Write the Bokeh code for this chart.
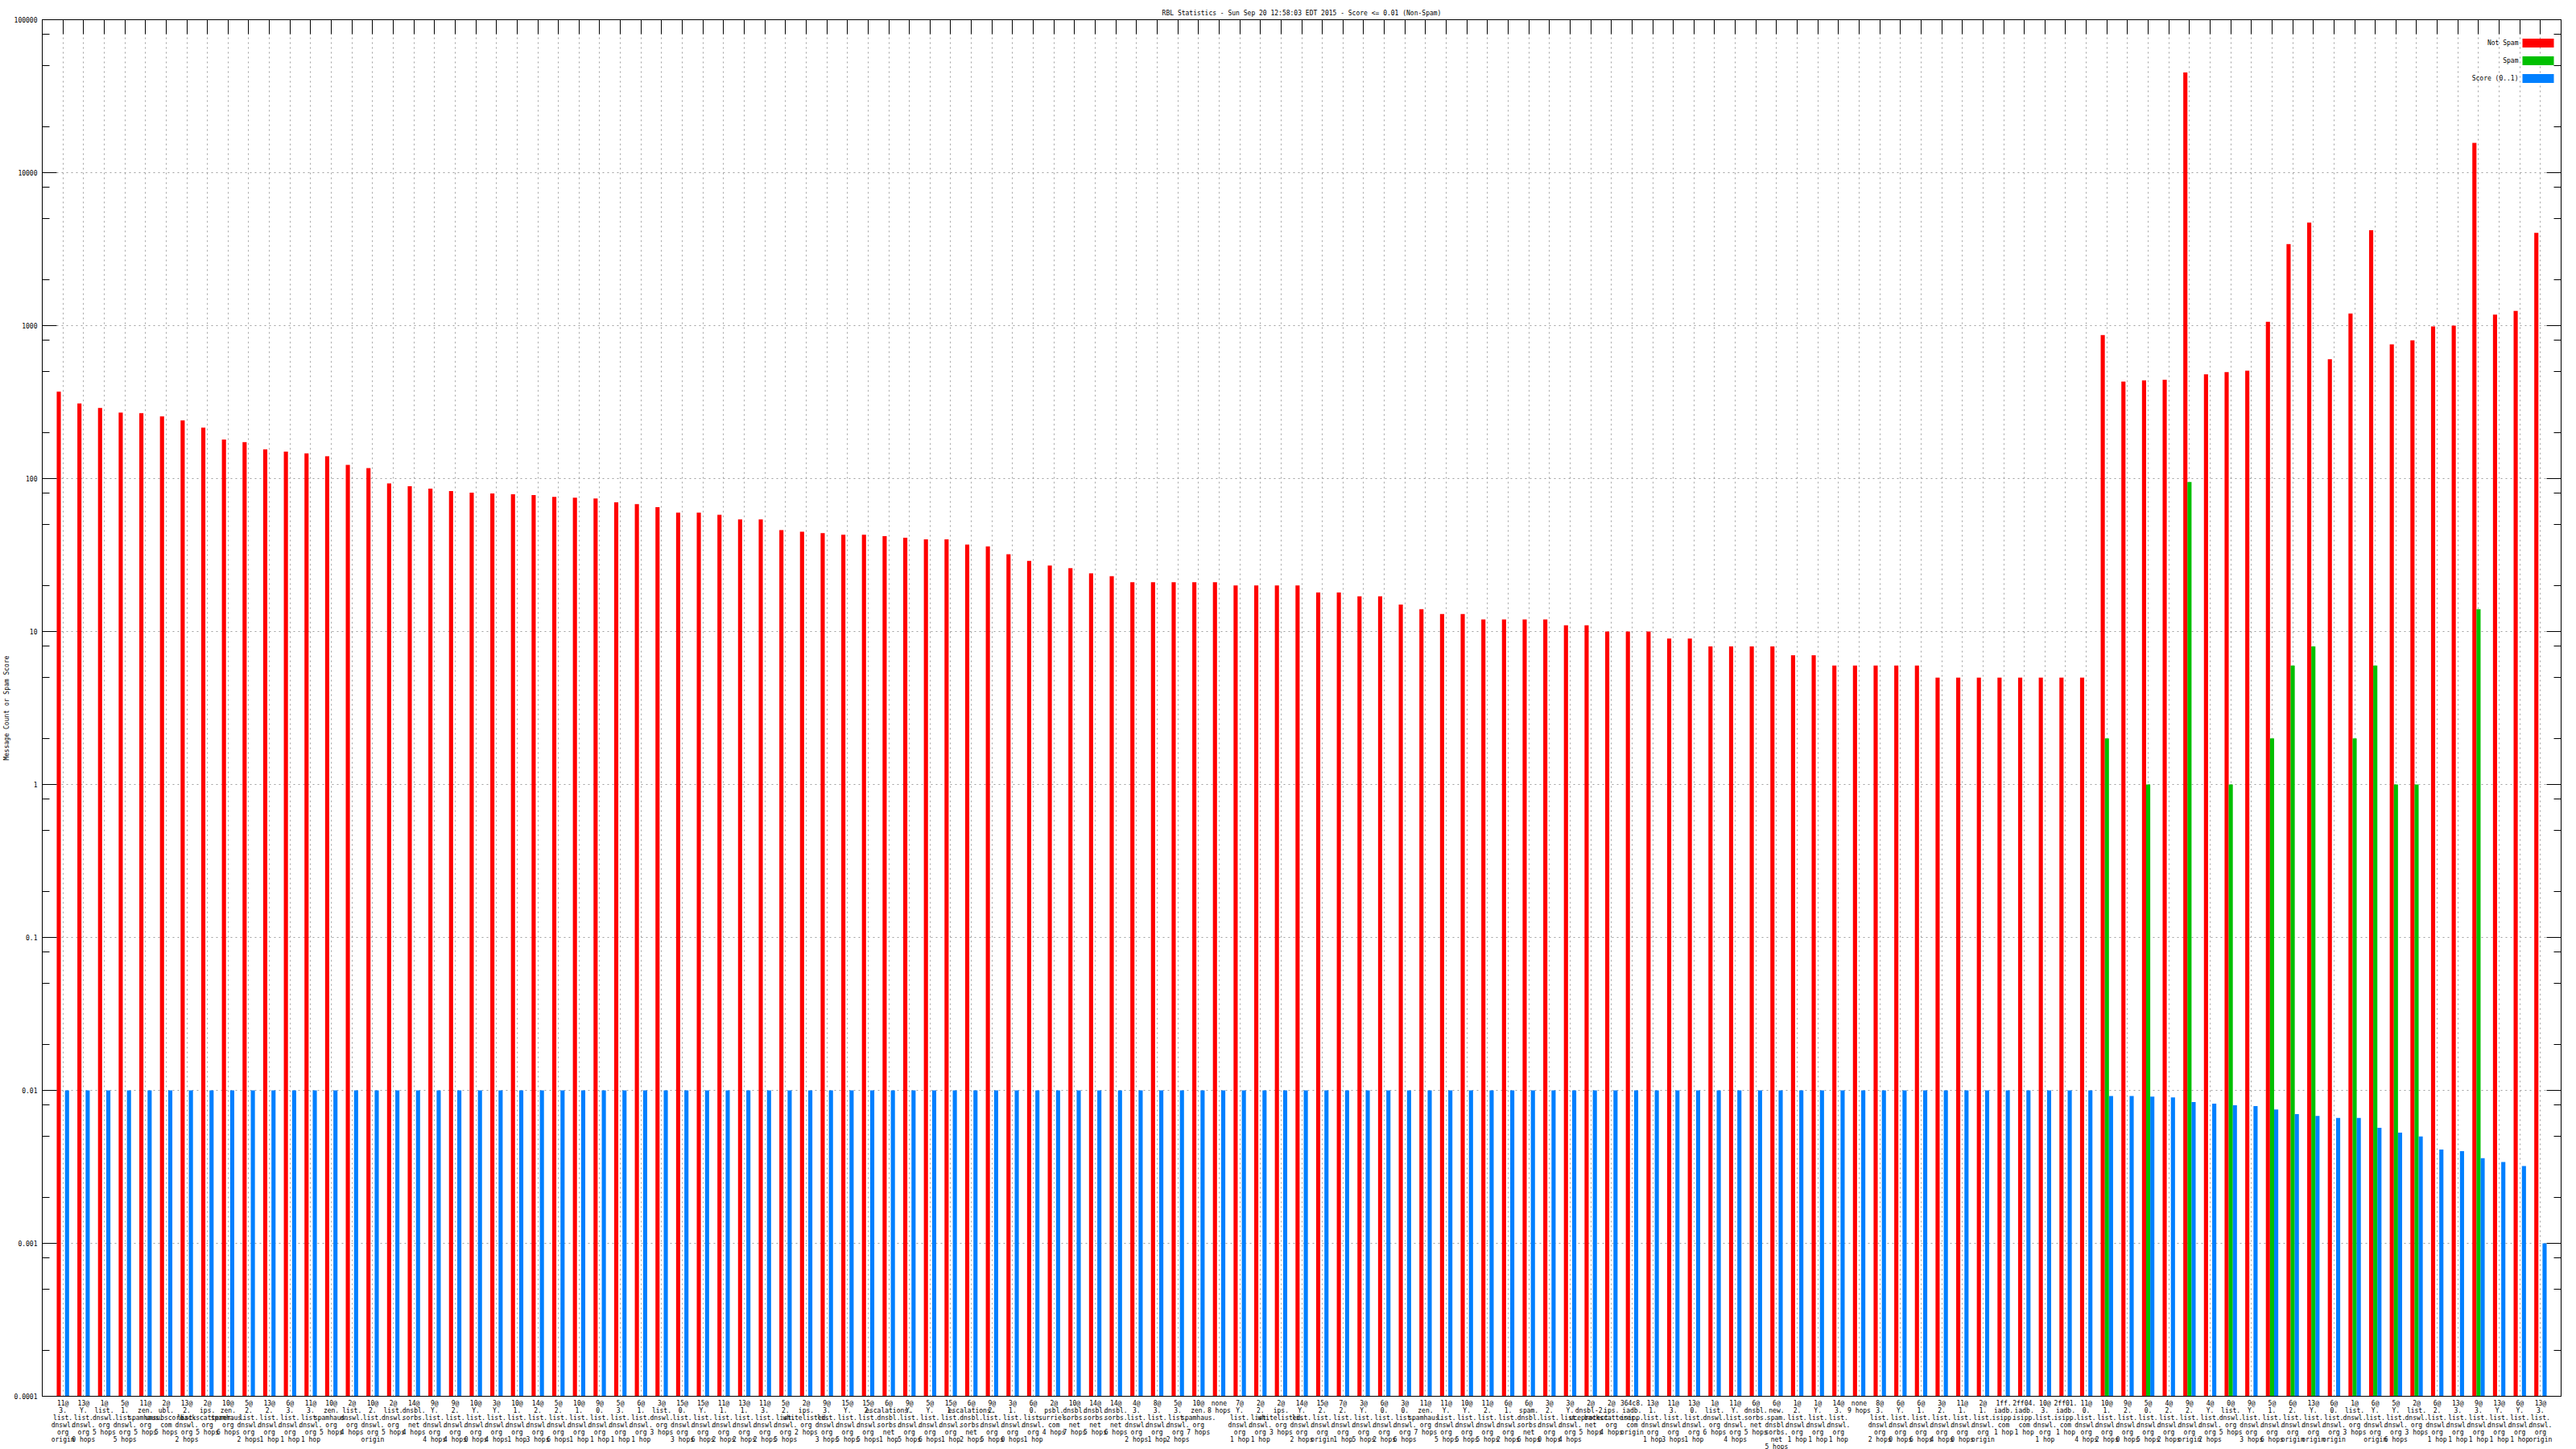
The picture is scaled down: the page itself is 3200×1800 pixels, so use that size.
from bokeh.plotting import figure
from bokeh.models import (Range1d, FixedTicker, LinearAxis, LogAxis,
                          CustomJSTickFormatter, Label, BoxAnnotation, ColumnDataSource)
from bokeh.embed import file_html
from bokeh.resources import INLINE

TITLE = "RBL Statistics - Sun Sep 20 12:58:03 EDT 2015 - Score <= 0.01 (Non-Spam)"

counts = ["11@", "13@", "1@", "5@", "11@", "2@", "13@", "2@", "10@", "5@",
          "13@", "6@", "11@", "10@", "2@", "10@", "2@", "14@", "9@", "9@",
          "10@", "3@", "10@", "14@", "5@", "10@", "9@", "5@", "6@", "3@",
          "15@", "15@", "11@", "13@", "11@", "5@", "2@", "9@", "15@", "15@",
          "6@", "9@", "5@", "15@", "6@", "9@", "3@", "6@", "2@", "10@",
          "14@", "14@", "4@", "8@", "5@", "10@", "none", "7@", "2@", "2@",
          "14@", "15@", "7@", "3@", "6@", "3@", "11@", "11@", "10@", "11@",
          "6@", "6@", "3@", "3@", "2@", "2@", "", "13@", "11@", "13@",
          "1@", "11@", "6@", "6@", "1@", "1@", "14@", "none", "8@", "6@",
          "6@", "3@", "11@", "2@", "", "", "10@", "", "11@", "10@",
          "9@", "5@", "4@", "9@", "4@", "0@", "9@", "5@", "6@", "13@",
          "6@", "1@", "6@", "5@", "2@", "6@", "13@", "9@", "13@", "6@",
          "13@"]

rbls = ["3.list.dnswl.org", "Y.list.dnswl.org", "list.dnswl.org", "1.list.dnswl.org",
        "zen.spamhaus.org", "ubl.unsubscore.com", "2.list.dnswl.org", "ips.backscatterer.org",
        "zen.spamhaus.org", "2.list.dnswl.org", "2.list.dnswl.org", "3.list.dnswl.org",
        "3.list.dnswl.org", "zen.spamhaus.org", "list.dnswl.org", "2.list.dnswl.org",
        "list.dnswl.org", "dnsbl.sorbs.net", "Y.list.dnswl.org", "2.list.dnswl.org",
        "Y.list.dnswl.org", "Y.list.dnswl.org", "1.list.dnswl.org", "2.list.dnswl.org",
        "2.list.dnswl.org", "1.list.dnswl.org", "0.list.dnswl.org", "3.list.dnswl.org",
        "1.list.dnswl.org", "list.dnswl.org", "0.list.dnswl.org", "Y.list.dnswl.org",
        "1.list.dnswl.org", "1.list.dnswl.org", "3.list.dnswl.org", "2.list.dnswl.org",
        "ips.whitelisted.org", "3.list.dnswl.org", "Y.list.dnswl.org", "2.list.dnswl.org",
        "escalations.dnsbl.sorbs.net", "Y.list.dnswl.org", "Y.list.dnswl.org", "1.list.dnswl.org",
        "escalations.dnsbl.sorbs.net", "2.list.dnswl.org", "1.list.dnswl.org", "0.list.dnswl.org",
        "psbl.surriel.com", "dnsbl.sorbs.net", "dnsbl.sorbs.net", "dnsbl.sorbs.net",
        "3.list.dnswl.org", "3.list.dnswl.org", "3.list.dnswl.org", "zen.spamhaus.org",
        "", "Y.list.dnswl.org", "2.list.dnswl.org", "ips.whitelisted.org",
        "Y.list.dnswl.org", "2.list.dnswl.org", "2.list.dnswl.org", "Y.list.dnswl.org",
        "0.list.dnswl.org", "0.list.dnswl.org", "zen.spamhaus.org", "Y.list.dnswl.org",
        "Y.list.dnswl.org", "2.list.dnswl.org", "1.list.dnswl.org", "spam.dnsbl.sorbs.net",
        "2.list.dnswl.org", "Y.list.dnswl.org", "dnsbl-2.uceprotect.net", "ips.backscatterer.org",
        "364c8.iadb.isipp.com", "1.list.dnswl.org", "3.list.dnswl.org", "0.list.dnswl.org",
        "list.dnswl.org", "Y.list.dnswl.org", "dnsbl.sorbs.net", "new.spam.dnsbl.sorbs.net",
        "2.list.dnswl.org", "Y.list.dnswl.org", "3.list.dnswl.org", "",
        "3.list.dnswl.org", "Y.list.dnswl.org", "1.list.dnswl.org", "2.list.dnswl.org",
        "1.list.dnswl.org", "1.list.dnswl.org", "1ff.iadb.isipp.com", "2ff04.iadb.isipp.com",
        "3.list.dnswl.org", "2ff01.iadb.isipp.com", "0.list.dnswl.org", "1.list.dnswl.org",
        "2.list.dnswl.org", "0.list.dnswl.org", "2.list.dnswl.org", "2.list.dnswl.org",
        "Y.list.dnswl.org", "list.dnswl.org", "Y.list.dnswl.org", "1.list.dnswl.org",
        "2.list.dnswl.org", "Y.list.dnswl.org", "0.list.dnswl.org", "list.dnswl.org",
        "Y.list.dnswl.org", "Y.list.dnswl.org", "list.dnswl.org", "2.list.dnswl.org",
        "3.list.dnswl.org", "3.list.dnswl.org", "Y.list.dnswl.org", "Y.list.dnswl.org",
        "3.list.dnswl.org"]

hops = ["origin", "0 hops", "5 hops", "5 hops", "5 hops", "5 hops", "2 hops", "5 hops", "6 hops", "2 hops",
        "1 hop", "1 hop", "1 hop", "5 hops", "4 hops", "origin", "5 hops", "4 hops", "4 hops", "4 hops",
        "0 hops", "4 hops", "1 hop", "3 hops", "6 hops", "1 hop", "1 hop", "1 hop", "1 hop", "3 hops",
        "3 hops", "6 hops", "2 hops", "2 hops", "2 hops", "5 hops", "2 hops", "3 hops", "5 hops", "5 hops",
        "1 hop", "5 hops", "6 hops", "1 hop", "2 hops", "5 hops", "0 hops", "1 hop", "4 hops", "7 hops",
        "5 hops", "6 hops", "2 hops", "1 hop", "2 hops", "7 hops", "8 hops", "1 hop", "1 hop", "3 hops",
        "2 hops", "origin", "1 hop", "5 hops", "2 hops", "6 hops", "7 hops", "5 hops", "5 hops", "5 hops",
        "2 hops", "6 hops", "0 hops", "4 hops", "5 hops", "4 hops", "origin", "1 hop", "3 hops", "1 hop",
        "6 hops", "4 hops", "5 hops", "5 hops", "1 hop", "1 hop", "1 hop", "9 hops", "2 hops", "0 hops",
        "6 hops", "4 hops", "0 hops", "origin", "1 hop", "1 hop", "1 hop", "1 hop", "4 hops", "2 hops",
        "0 hops", "5 hops", "2 hops", "origin", "2 hops", "5 hops", "3 hops", "6 hops", "origin", "origin",
        "origin", "3 hops", "origin", "6 hops", "3 hops", "1 hop", "1 hop", "1 hop", "1 hop", "1 hop",
        "origin"]

not_spam = [370, 310, 290, 270, 268, 255, 240, 215, 180, 173,
            155, 150, 146, 140, 123, 117, 93, 89, 86, 83,
            81, 80, 79, 78, 76, 75, 74, 70, 68, 65,
            60, 60, 58, 54, 54, 46, 45, 44, 43, 43,
            42, 41, 40, 40, 37, 36, 32, 29, 27, 26,
            24, 23, 21, 21, 21, 21, 21, 20, 20, 20,
            20, 18, 18, 17, 17, 15, 14, 13, 13, 12,
            12, 12, 12, 11, 11, 10, 10, 10, 9, 9,
            8, 8, 8, 8, 7, 7, 6, 6, 6, 6,
            6, 5, 5, 5, 5, 5, 5, 5, 5, 867,
            431, 438, 442, 45200, 481, 497, 508, 1060, 3410, 4720,
            603, 1200, 4200, 754, 802, 988, 1000, 15660, 1180, 1248,
            4040]

spam = [0] * 99 + [2, 0, 1, 0, 95, 0, 1, 0, 2, 6,
                   8, 0, 2, 6, 1, 1, 0, 0, 14, 0,
                   0, 0]

score = [0.01] * 99 + [0.0092, 0.0092, 0.0091, 0.0090, 0.0084, 0.0082, 0.0080, 0.0079, 0.0075, 0.0070,
                       0.0068, 0.0066, 0.0066, 0.0057, 0.0053, 0.0050, 0.0041, 0.0040, 0.0036, 0.0034,
                       0.0032, 0.0010]

decades = [0.0001, 0.001, 0.01, 0.1, 1, 10, 100, 1000, 10000, 100000]
minor = [m * d for d in decades[:-1] for m in (2, 5, 8)]

FONT = "DejaVu Sans Mono"
FS = "8px"
GRID = "#a0a0a0"

n = len(not_spam)
xs = list(range(n))
labels = {}
for i, (c, r, h) in enumerate(zip(counts, rbls, hops)):
    lines = []
    if c:
        lines.append(c)
    if r:
        parts = r.split(".")
        lines += [q + "." for q in parts[:-1]] + [parts[-1]]
    if h:
        lines.append(h)
    labels[i] = "\n".join(lines)

BOTTOM = decades[0]
FW = 3129
FH = 1710

p = figure(frame_width=FW, frame_height=FH, x_range=Range1d(-1, n),
           y_range=Range1d(decades[0], decades[-1]),
           y_axis_type="log", output_backend="svg", toolbar_location=None,
           min_border_left=47, min_border_right=8, min_border_top=24, min_border_bottom=60)
p.background_fill_color = "white"
p.border_fill_color = "white"
p.outline_line_color = "black"
p.outline_line_width = 1

p.title.text = TITLE
p.title.text_font = FONT
p.title.text_font_size = FS
p.title.text_font_style = "normal"
p.title.text_color = "black"
p.title.align = "center"
p.title.standoff = 8

red_src = ColumnDataSource(dict(x=[i - 0.2 for i in xs], top=not_spam))
g_idx = [i for i in xs if spam[i] > 0]
green_src = ColumnDataSource(dict(x=g_idx, top=[spam[i] for i in g_idx]))
blue_src = ColumnDataSource(dict(x=[i + 0.2 for i in xs], top=score))

p.vbar(x="x", top="top", bottom=BOTTOM, width=0.2, source=red_src, fill_color="#ff0000", line_color=None)
p.vbar(x="x", top="top", bottom=BOTTOM, width=0.2, source=green_src, fill_color="#00c000", line_color=None)
p.vbar(x="x", top="top", bottom=BOTTOM, width=0.2, source=blue_src, fill_color="#0080ff", line_color=None)

# bottom axis with category labels
bx = p.below[0]
bx.ticker = FixedTicker(ticks=xs, minor_ticks=[])
bx.major_label_overrides = labels
bx.major_tick_in = 0
bx.major_tick_out = 0
bx.minor_tick_in = 0
bx.minor_tick_out = 0
bx.major_label_standoff = 4
bx.major_label_text_font = FONT
bx.major_label_text_font_size = FS
bx.major_label_text_line_height = 1.0
bx.major_label_text_color = "black"
bx.axis_line_color = "black"

# left axis
ly = p.left[0]
ly.ticker = FixedTicker(ticks=decades, minor_ticks=minor)
ly.formatter = CustomJSTickFormatter(code="return tick >= 1 ? tick.toFixed(0) : String(tick);")
ly.major_tick_in = 18
ly.major_tick_out = 0
ly.minor_tick_in = 9
ly.minor_tick_out = 0
ly.major_label_standoff = 6
ly.major_label_text_font = FONT
ly.major_label_text_font_size = FS
ly.major_label_text_color = "black"
ly.axis_label = "Message Count or Spam Score"
ly.axis_label_text_font = FONT
ly.axis_label_text_font_size = FS
ly.axis_label_text_font_style = "normal"
ly.axis_label_text_color = "black"
ly.axis_label_standoff = 2
ly.axis_line_color = "black"

# right mirror axis
ry = LogAxis(ticker=FixedTicker(ticks=decades, minor_ticks=minor),
             formatter=CustomJSTickFormatter(code="return '';"),
             major_tick_in=18, major_tick_out=0, minor_tick_in=9, minor_tick_out=0,
             major_label_text_font_size="0px", axis_line_color="black")
p.add_layout(ry, "right")

# top mirror axis
tx = LinearAxis(ticker=FixedTicker(ticks=xs, minor_ticks=[]),
                formatter=CustomJSTickFormatter(code="return '';"),
                major_tick_in=18, major_tick_out=0, minor_tick_in=0, minor_tick_out=0,
                major_label_standoff=0,
                major_label_text_font_size="0px", axis_line_color="black")
p.add_layout(tx, "above")

# grids
p.xgrid.ticker = FixedTicker(ticks=xs, minor_ticks=[])
p.ygrid.ticker = FixedTicker(ticks=decades, minor_ticks=[])
for g in (p.xgrid[0], p.ygrid[0]):
    g.grid_line_color = GRID
    g.grid_line_dash = "2 4"
    g.grid_line_width = 1

# legend (text left, swatch right)
legend_items = [("Not Spam", "#ff0000"), ("Spam", "#00c000"), ("Score (0..1)", "#0080ff")]
for k, (name, col) in enumerate(legend_items):
    yc = FH - 29 - 22 * k
    p.add_layout(Label(x=FW - 53, y=yc, x_units="screen", y_units="screen", text=name,
                       text_font=FONT, text_font_size=FS, text_align="right",
                       text_baseline="middle", text_color="black"))
    p.add_layout(BoxAnnotation(left=FW - 48, right=FW - 9, bottom=yc - 5.5, top=yc + 5.5,
                               left_units="screen", right_units="screen",
                               bottom_units="screen", top_units="screen",
                               fill_color=col, fill_alpha=1.0, line_color=None))

open("out.html", "w").write(file_html(p, INLINE))
